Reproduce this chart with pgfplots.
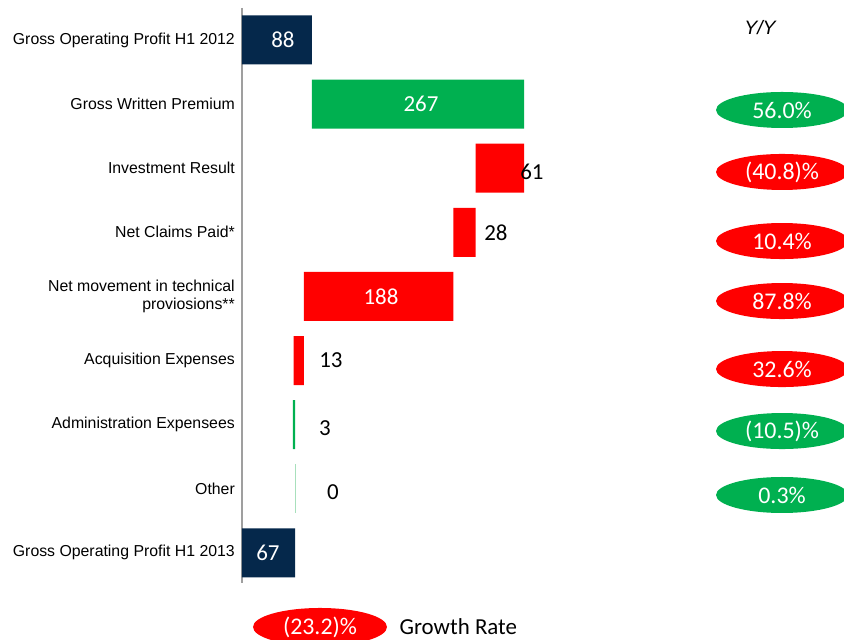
\documentclass[border=0pt]{standalone}
\usepackage{fontspec}
\setmainfont{Liberation Sans}
\newfontfamily\numfont{Carlito}
\usepackage{pgfplots}
\usetikzlibrary{shapes.geometric}
\pgfplotsset{compat=1.18}
\definecolor{navy}{HTML}{05284B}
\definecolor{ggreen}{HTML}{00B050}
\definecolor{rred}{HTML}{FF0000}
\definecolor{lgreen}{HTML}{A8E0BC}
\tikzset{
  catlab/.style={font=\fontsize{15.9}{18.5}\selectfont, anchor=east, align=right, inner sep=0pt},
  numlab/.style={font=\numfont\fontsize{23}{26}\selectfont},
  pctlab/.style={font=\numfont\fontsize{24}{26}\selectfont, text=white, ellipse, inner sep=0pt, minimum width=132bp, minimum height=36bp},
}
\begin{document}
\begin{tikzpicture}
\begin{axis}[
  scale only axis, width=844bp, height=640bp,
  xmin=-304.6, xmax=757.8, ymin=-0.624, ymax=9.36, y dir=reverse,
  axis lines=none, xbar stacked, bar width=49bp, clip=false,
]
% invisible offsets
\addplot[draw=none, fill=none] coordinates {(0,0) (88,1) (294,2) (266,3) (78,4) (65,5) (64,6) (66.5,7) (0,8)};
% navy totals
\addplot[draw=none, fill=navy] coordinates {(88,0) (0,1) (0,2) (0,3) (0,4) (0,5) (0,6) (0,7) (67,8)};
% green increases
\addplot[draw=none, fill=ggreen] coordinates {(0,0) (267,1) (0,2) (0,3) (0,4) (0,5) (3,6) (0,7) (0,8)};
% red decreases
\addplot[draw=none, fill=rred] coordinates {(0,0) (0,1) (61,2) (28,3) (188,4) (13,5) (0,6) (0,7) (0,8)};
% other
\addplot[draw=none, fill=lgreen] coordinates {(0,0) (0,1) (0,2) (0,3) (0,4) (0,5) (0,6) (1.2,7) (0,8)};

\draw[gray!75, line width=1.5pt] (axis cs:0,-0.5) -- (axis cs:0,8.47);

% anchor coordinates
\coordinate (c0) at (axis cs:-8.8,0);
\coordinate (c1) at (axis cs:-8.8,1);
\coordinate (c2) at (axis cs:-8.8,2);
\coordinate (c3) at (axis cs:-8.8,3);
\coordinate (c4) at (axis cs:-8.8,4);
\coordinate (c5) at (axis cs:-8.8,5);
\coordinate (c6) at (axis cs:-8.8,6);
\coordinate (c7) at (axis cs:-8.8,7);
\coordinate (c8) at (axis cs:-8.8,8);

\coordinate (v0) at (axis cs:51.6,0);
\coordinate (v1) at (axis cs:225.3,1);
\coordinate (v2) at (axis cs:365,2.06);
\coordinate (v3) at (axis cs:319.7,3);
\coordinate (v4) at (axis cs:175,4);
\coordinate (v5) at (axis cs:112,5);
\coordinate (v6) at (axis cs:104.5,6.06);
\coordinate (v7) at (axis cs:114.6,7.06);
\coordinate (v8) at (axis cs:32.7,8);

\coordinate (yy) at (axis cs:652,-0.187);
\coordinate (p1) at (axis cs:679.8,1.092);
\coordinate (p2) at (axis cs:679.8,2.059);
\coordinate (p3) at (axis cs:679.8,3.136);
\coordinate (p4) at (axis cs:679.8,4.072);
\coordinate (p5) at (axis cs:679.8,5.133);
\coordinate (p6) at (axis cs:679.8,6.1);
\coordinate (p7) at (axis cs:679.8,7.098);
\coordinate (gr) at (axis cs:98.2,9.157);
\coordinate (grt) at (axis cs:194,9.157);
\end{axis}

% category labels
\node[catlab] at (c0) {Gross Operating Profit H1 2012};
\node[catlab] at (c1) {Gross Written Premium};
\node[catlab] at (c2) {Investment Result};
\node[catlab] at (c3) {Net Claims Paid*};
\node[catlab] at (c4) {Net movement in technical\\proviosions**};
\node[catlab] at (c5) {Acquisition Expenses};
\node[catlab] at (c6) {Administration Expensees};
\node[catlab] at (c7) {Other};
\node[catlab] at (c8) {Gross Operating Profit H1 2013};

% value labels
\node[numlab, text=white] at (v0) {88};
\node[numlab, text=white] at (v1) {267};
\node[numlab] at (v2) {61};
\node[numlab] at (v3) {28};
\node[numlab, text=white] at (v4) {188};
\node[numlab] at (v5) {13};
\node[numlab] at (v6) {3};
\node[numlab] at (v7) {0};
\node[numlab, text=white] at (v8) {67};

% Y/Y header
\node[font=\itshape\fontsize{19.5}{22}\selectfont] at (yy) {Y/Y};

% Y/Y ellipses
\node[pctlab, fill=ggreen] at (p1) {56.0\%};
\node[pctlab, fill=rred] at (p2) {(40.8)\%};
\node[pctlab, fill=rred] at (p3) {10.4\%};
\node[pctlab, fill=rred] at (p4) {87.8\%};
\node[pctlab, fill=rred] at (p5) {32.6\%};
\node[pctlab, fill=ggreen] at (p6) {(10.5)\%};
\node[pctlab, fill=ggreen] at (p7) {0.3\%};
% bottom growth rate
\node[pctlab, fill=rred, minimum width=134bp, minimum height=38bp] at (gr) {(23.2)\%};
\node[anchor=west, numlab] at (grt) {Growth Rate};

\pgfresetboundingbox
\path (current axis.south west) rectangle (current axis.north east);
\end{tikzpicture}
\end{document}
